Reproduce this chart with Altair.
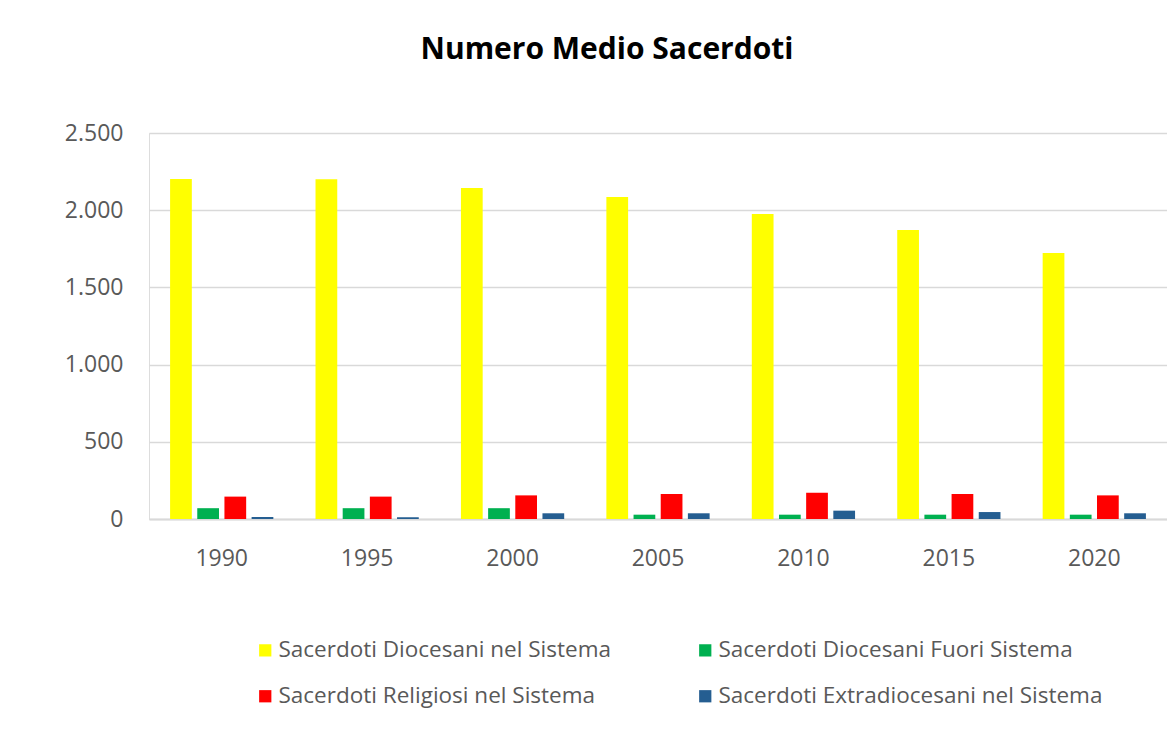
import altair as alt
import pandas as pd

years = ["1990", "1995", "2000", "2005", "2010", "2015", "2020"]
series = [
    "Sacerdoti Diocesani nel Sistema",
    "Sacerdoti Diocesani Fuori Sistema",
    "Sacerdoti Religiosi nel Sistema",
    "Sacerdoti Extradiocesani nel Sistema",
]
diocesani_nel = [2202, 2200, 2144, 2086, 1975, 1872, 1723]
diocesani_fuori = [70, 70, 70, 28, 28, 28, 28]
religiosi_nel = [145, 145, 153, 162, 170, 162, 153]
extradiocesani_nel = [13, 12, 37, 37, 54, 45, 37]
colors = ["#FFFF00", "#00B050", "#FF0000", "#255E91"]

rows = []
for s, vals in zip(series, [diocesani_nel, diocesani_fuori, religiosi_nel, extradiocesani_nel]):
    for y, v in zip(years, vals):
        rows.append({"Anno": y, "Serie": s, "Valore": v})
df = pd.DataFrame(rows)

FONT = "Open Sans"
GREY = "#595959"

chart = (
    alt.Chart(df)
    .mark_bar()
    .encode(
        x=alt.X(
            "Anno:N",
            sort=years,
            title=None,
            scale=alt.Scale(paddingInner=0.29, paddingOuter=0.145),
            axis=alt.Axis(
                labelAngle=0,
                ticks=False,
                domainColor="#d9d9d9",
                domainWidth=2,
                labelFontSize=23,
                labelColor=GREY,
                labelFont=FONT,
                labelPadding=28,
            ),
        ),
        xOffset=alt.XOffset(
            "Serie:N", sort=series, scale=alt.Scale(paddingInner=0.2, paddingOuter=0)
        ),
        y=alt.Y(
            "Valore:Q",
            title=None,
            scale=alt.Scale(domain=[0, 2500], nice=False),
            axis=alt.Axis(
                values=[0, 500, 1000, 1500, 2000, 2500],
                labelExpr="replace(format(datum.value, ','), ',', '.')",
                ticks=False,
                domain=False,
                gridColor="#d9d9d9",
                gridWidth=1.5,
                labelFontSize=23,
                labelColor=GREY,
                labelFont=FONT,
                labelPadding=26,
            ),
        ),
        color=alt.Color(
            "Serie:N",
            sort=series,
            scale=alt.Scale(domain=series, range=colors),
            legend=alt.Legend(
                title=None,
                orient="none",
                direction="horizontal",
                legendX=105,
                legendY=506,
                columns=2,
                gridAlign="all",
                columnPadding=31,
                rowPadding=23,
                symbolType="square",
                symbolSize=150,
                symbolStrokeWidth=0,
                labelFontSize=22.5,
                labelColor=GREY,
                labelFont=FONT,
                labelLimit=600,
                labelOffset=2,
            ),
        ),
    )
    .properties(
        width=1018,
        height=386,
        padding={"left": 141, "top": 125, "right": 0, "bottom": 200},
        autosize=alt.AutoSizeParams(type="none"),
        title=alt.TitleParams(
            "Numero Medio Sacerdoti",
            font=FONT,
            fontSize=30,
            fontWeight="bold",
            color="#000000",
            anchor="middle",
            dx=-51,
            offset=57,
        ),
    )
    .configure_view(stroke=None)
    .configure(background="white")
)

chart.save("out.html", embed_options={"renderer": "svg", "actions": False})
